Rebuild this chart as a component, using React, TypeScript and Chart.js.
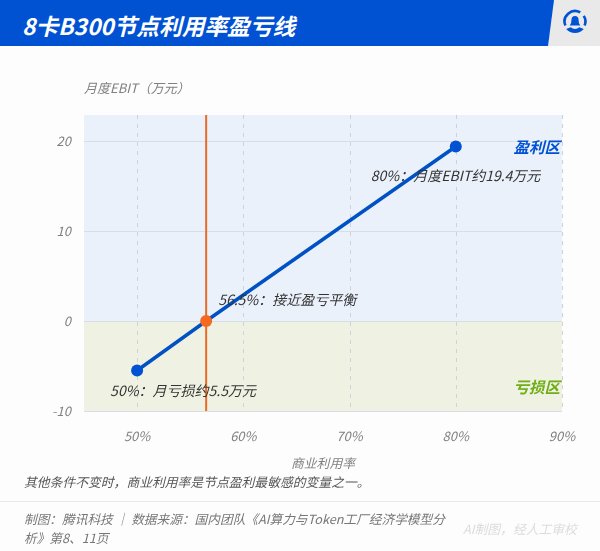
import React, { useEffect, useRef } from "react";
import { Chart, registerables } from "chart.js";

Chart.register(...registerables);

const TITLE = "8卡B300节点利用率盈亏线";
const NOTE = "其他条件不变时，商业利用率是节点盈利最敏感的变量之一。";
const SOURCE = "制图：腾讯科技 │ 数据来源：国内团队《AI算力与Token工厂经济学模型分析》第8、11页";
const STAMP = "AI制图，经人工审校";
const Y_TITLE = "月度EBIT（万元）";
const X_TITLE = "商业利用率";

const utilization = [50, 56.5, 80];
const ebit = [-5.5, 0, 19.4];
const xTicks = [50, 60, 70, 80, 90];
const yTicks = [-10, 0, 10, 20];
const xRange = [45, 90];
const yRange = [-10, 22.9];
const breakEvenX = [56.5, 56.5];
const breakEvenY = [-10, 22.9];
const pointColors = ["#0052d3", "#f4681f", "#0052d3"];
const pointNotes = ["50%：月亏损约5.5万元", "56.5%：接近盈亏平衡", "80%：月度EBIT约19.4万元"];
const FONT = '"Noto Sans CJK SC", "Noto Sans", sans-serif';

const overlay = {
  id: "overlay",
  beforeDatasetsDraw(chart: any) {
    const { ctx, chartArea: a, scales } = chart;
    const y0 = scales.y.getPixelForValue(0);
    ctx.save();
    ctx.fillStyle = "#ebf1fa";
    ctx.fillRect(a.left, a.top, a.width, y0 - a.top);
    ctx.fillStyle = "#eff2e3";
    ctx.fillRect(a.left, y0, a.width, a.bottom - y0);
    ctx.lineWidth = 1;
    ctx.strokeStyle = "#d9dde6";
    yTicks.forEach((t) => {
      const y = Math.round(scales.y.getPixelForValue(t)) + 0.5;
      ctx.beginPath();
      ctx.moveTo(a.left, y);
      ctx.lineTo(a.right, y);
      ctx.stroke();
    });
    ctx.strokeStyle = "#cfd2d6";
    ctx.setLineDash([4, 5]);
    xTicks.forEach((t) => {
      const x = Math.round(scales.x.getPixelForValue(t)) + 0.5;
      ctx.beginPath();
      ctx.moveTo(x, a.top);
      ctx.lineTo(x, a.bottom);
      ctx.stroke();
    });
    ctx.restore();
  },
  afterDatasetsDraw(chart: any) {
    const { ctx, chartArea: a, scales } = chart;
    ctx.save();
    ctx.textBaseline = "middle";
    ctx.fillStyle = "#333333";
    ctx.font = `italic 14px ${FONT}`;
    const offsets = [[-27, 20, "left"], [12, -21, "left"], [-85, 29, "left"]];
    pointNotes.forEach((n, i) => {
      ctx.textAlign = offsets[i][2];
      ctx.fillText(
        n,
        scales.x.getPixelForValue(utilization[i]) + (offsets[i][0] as number),
        scales.y.getPixelForValue(ebit[i]) + (offsets[i][1] as number)
      );
    });
    ctx.font = `italic bold 15.5px ${FONT}`;
    ctx.textAlign = "right";
    ctx.fillStyle = "#0052d3";
    ctx.fillText("盈利区", a.right - 2, a.top + 32);
    ctx.fillStyle = "#6fae16";
    ctx.fillText("亏损区", a.right - 2, a.bottom - 24);
    ctx.restore();
  },
};

const abs = (o: React.CSSProperties): React.CSSProperties => ({
  position: "absolute",
  fontFamily: FONT,
  fontStyle: "italic",
  whiteSpace: "nowrap",
  ...o,
});

export default function App() {
  const ref = useRef<HTMLCanvasElement>(null);
  useEffect(() => {
    const chart = new Chart(ref.current as HTMLCanvasElement, {
      type: "scatter",
      data: {
        datasets: [
          {
            data: breakEvenX.map((x, i) => ({ x, y: breakEvenY[i] })),
            showLine: true,
            borderColor: "#ea6a26",
            borderWidth: 2,
            pointRadius: 0,
            order: 2,
          },
          {
            data: utilization.map((x, i) => ({ x, y: ebit[i] })),
            showLine: true,
            borderColor: "#0052c4",
            borderWidth: 3.5,
            pointRadius: 6,
            pointBackgroundColor: pointColors,
            pointBorderWidth: 0,
            order: 1,
          },
        ],
      },
      plugins: [overlay],
      options: {
        animation: false,
        responsive: false,
        layout: { padding: { left: 0, top: 115, right: 38, bottom: 90 } },
        plugins: { legend: { display: false }, tooltip: { enabled: false } },
        scales: {
          x: {
            type: "linear",
            min: xRange[0],
            max: xRange[1],
            afterBuildTicks: (s: any) => {
              s.ticks = xTicks.map((value) => ({ value }));
            },
            afterFit: (s: any) => {
              s.height = 50;
            },
            grid: { display: false },
            border: { display: false },
            ticks: {
              padding: 9,
              maxRotation: 0,
              autoSkip: false,
              color: "#808080",
              font: { family: FONT, size: 13, style: "italic" },
              callback: (v: any) => `${v}%`,
            },
          },
          y: {
            type: "linear",
            min: yRange[0],
            max: yRange[1],
            afterBuildTicks: (s: any) => {
              s.ticks = yTicks.map((value) => ({ value }));
            },
            afterFit: (s: any) => {
              s.width = 84;
            },
            grid: { display: false },
            border: { display: false },
            ticks: {
              padding: 5,
              autoSkip: false,
              color: "#808080",
              font: { family: FONT, size: 13, style: "italic" },
            },
          },
        },
      } as any,
    });
    return () => chart.destroy();
  }, []);

  return (
    <div style={{ position: "fixed", left: 0, top: 0, width: 600, height: 551, background: "#fdfdfd", overflow: "hidden" }}>
      <canvas ref={ref} width={600} height={551} style={{ position: "absolute", left: 0, top: 0 }} />
      <div style={{ position: "absolute", left: 0, top: 0, width: 600, height: 46, background: "#e9e9e9" }} />
      <div
        style={{
          position: "absolute",
          left: 0,
          top: 0,
          width: 600,
          height: 46,
          background: "#0052d3",
          clipPath: "polygon(0 0, 554px 0, 548px 46px, 0 46px)",
        }}
      />
      <div style={abs({ left: 22, top: 7, fontSize: 22.7, lineHeight: "38px", fontWeight: 700, color: "#fff" })}>{TITLE}</div>
      <svg width="28" height="28" viewBox="0 0 32 32" style={{ position: "absolute", left: 561, top: 8 }}>
        <path d="M5 20 A12 12 0 0 1 22 5" fill="none" stroke="#0052d3" strokeWidth="3" />
        <path d="M26 9 A12 12 0 0 1 27 20" fill="none" stroke="#0052d3" strokeWidth="3" />
        <path d="M6 24 A13 13 0 0 0 26 24 L21 22 A8 8 0 0 1 11 22 Z" fill="#0052d3" />
        <path d="M10 20 Q12 18 12 13 A4 4 0 0 1 20 13 Q20 18 22 20 Z" fill="#0052d3" />
      </svg>
      <div style={abs({ left: 84, top: 78, fontSize: 13, lineHeight: "20px", color: "#808080" })}>{Y_TITLE}</div>
      <div style={abs({ left: 291, top: 453, fontSize: 12.8, lineHeight: "20px", color: "#808080" })}>{X_TITLE}</div>
      <div style={abs({ left: 24, top: 472, fontSize: 12.8, lineHeight: "20px", color: "#555" })}>{NOTE}</div>
      <div style={{ position: "absolute", left: 0, top: 501, width: 600, height: 1, background: "#e8e8e8" }} />
      <div
        style={abs({
          left: 24,
          top: 510,
          width: 430,
          whiteSpace: "normal",
          fontSize: 12.7,
          lineHeight: "18.5px",
          color: "#777",
        })}
      >
        {SOURCE}
      </div>
      <div style={abs({ left: 463, top: 519, fontSize: 12.8, lineHeight: "20px", color: "#dcdcdc" })}>{STAMP}</div>
    </div>
  );
}
